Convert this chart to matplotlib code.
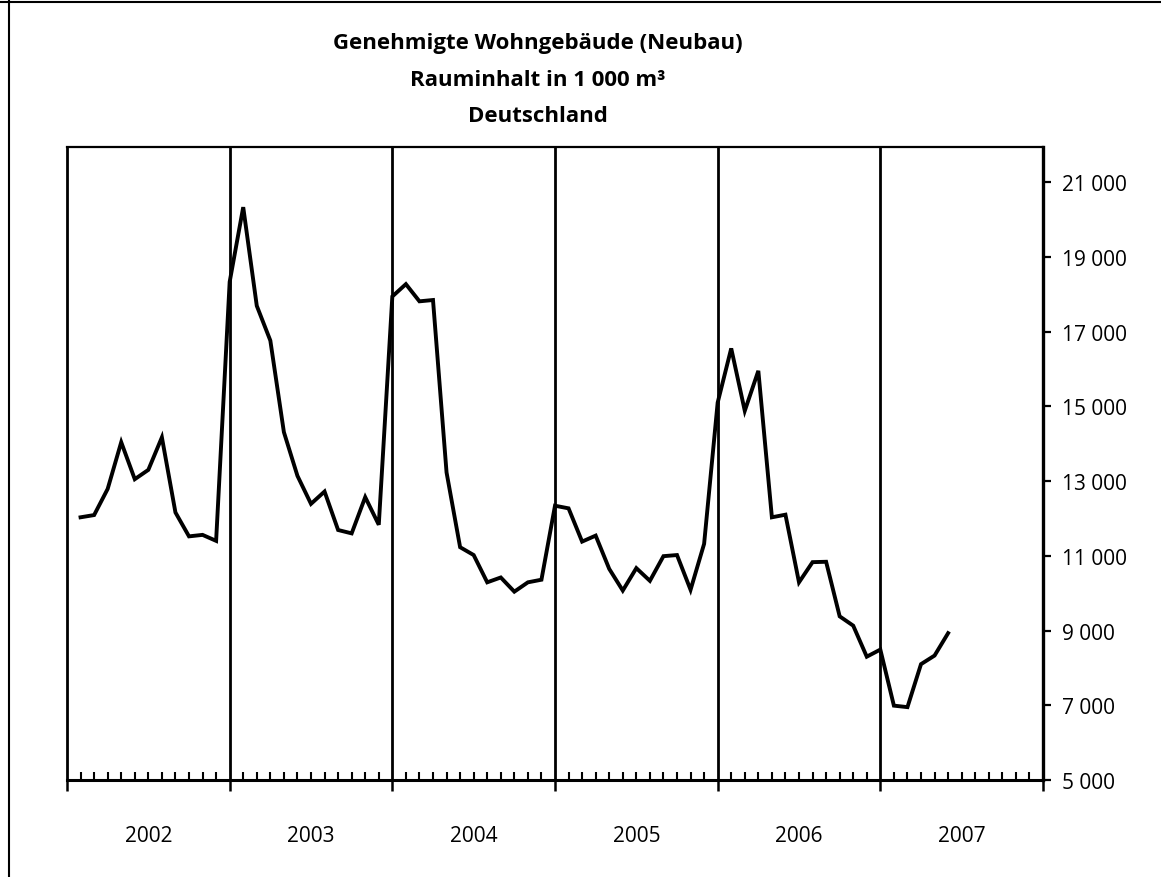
import matplotlib
matplotlib.use("Agg")
import matplotlib.pyplot as plt
from matplotlib.ticker import FixedLocator, NullFormatter
from matplotlib.lines import Line2D

plt.rcParams['font.family'] = ['Open Sans', 'DejaVu Sans']

# ---- data ----
years = ["2002", "2003", "2004", "2005", "2006", "2007"]
v2002 = [12030, 12090, 12790, 14040, 13050, 13300, 14170, 12160, 11520, 11560, 11400, 18330]
v2003 = [20330, 17690, 16760, 14310, 13140, 12390, 12720, 11690, 11600, 12570, 11830, 17940]
v2004 = [18270, 17810, 17845, 13230, 11230, 11020, 10290, 10420, 10040, 10290, 10360, 12340]
v2005 = [12270, 11380, 11540, 10650, 10070, 10670, 10330, 10990, 11020, 10090, 11320, 15100]
v2006 = [16550, 14880, 15950, 12030, 12100, 10290, 10830, 10840, 9380, 9130, 8300, 8490]
v2007 = [6990, 6950, 8100, 8330, 8930]
y_ticks = [5000, 7000, 9000, 11000, 13000, 15000, 17000, 19000, 21000]
y_tick_labels = ["5 000", "7 000", "9 000", "11 000", "13 000", "15 000", "17 000", "19 000", "21 000"]
title_lines = ["Genehmigte Wohngebäude (Neubau)", "Rauminhalt in 1 000 m³", "Deutschland"]

values = v2002 + v2003 + v2004 + v2005 + v2006 + v2007
months = list(range(1, len(values) + 1))

W, H = 1161, 878
fig = plt.figure(figsize=(W / 100, H / 100), dpi=100)
ax = fig.add_axes([67 / W, (H - 781) / H, 976 / W, 633 / H])

ax.plot(months, values, color='black', lw=2.8, solid_joinstyle='miter')

ax.set_xlim(0, 12 * len(years))
ax.set_ylim(5000, 21940)

# year separators
for k in range(1, len(years)):
    ax.axvline(12 * k, color='black', lw=2.0)

for s in ax.spines.values():
    s.set_color('black')
ax.spines['top'].set_linewidth(1.6)
ax.spines['left'].set_linewidth(2.0)
ax.spines['right'].set_linewidth(2.4)
ax.spines['bottom'].set_linewidth(2.2)

# x ticks
ax.xaxis.set_major_locator(FixedLocator([12 * k for k in range(len(years) + 1)]))
ax.xaxis.set_minor_locator(FixedLocator([m for m in range(1, 12 * len(years)) if m % 12 != 0]))
ax.xaxis.set_major_formatter(NullFormatter())
ax.tick_params(axis='x', which='major', direction='out', length=8, width=1.8, colors='black')
ax.tick_params(axis='x', which='minor', direction='in', length=5.5, width=1.5, colors='black')

# y ticks on right
ax.yaxis.tick_right()
ax.set_yticks(y_ticks)
ax.set_yticklabels(y_tick_labels)
ax.tick_params(axis='y', which='major', direction='out', length=6, width=1.6, pad=8,
               labelsize=15, colors='black')

# year labels
for k, yr in enumerate(years):
    ax.text(12 * k + 6, -0.087, yr, transform=ax.get_xaxis_transform(),
            ha='center', va='center', fontsize=15, color='black')

# title
for i, t in enumerate(title_lines):
    fig.text(538 / W, 1 - (44 + 36 * i) / H, t, ha='center', va='center',
             fontsize=16, fontweight='bold', color='black')

# outer frame lines
fig.add_artist(Line2D([9 / W, 9 / W], [0, 1], transform=fig.transFigure, color='black', lw=1.5))
fig.add_artist(Line2D([0, 1], [1 - 3 / H, 1 - 3 / H], transform=fig.transFigure, color='black', lw=1.5))

fig.savefig('out.png', dpi=100, facecolor='white')
